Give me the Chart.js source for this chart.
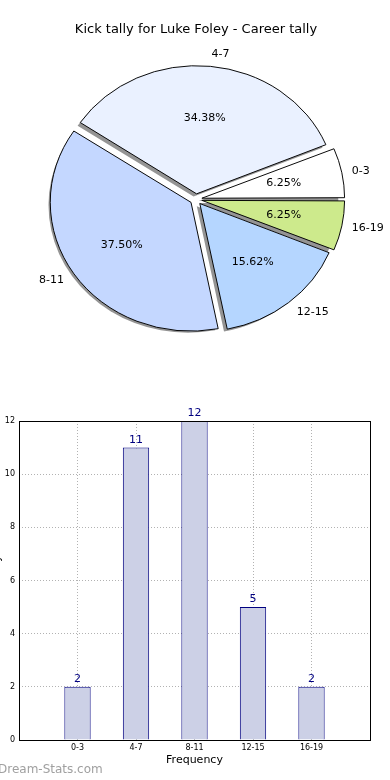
<!DOCTYPE html>
<html>
<head>
<meta charset="utf-8">
<script src="https://cdn.jsdelivr.net/npm/chart.js@4/dist/chart.umd.min.js"></script>
<style>
  html, body { margin: 0; padding: 0; background: #fff; overflow: hidden; }
  body { width: 390px; height: 780px; position: relative; font-family: 'DejaVu Sans', sans-serif; }
  #pie-wrap { position: absolute; left: 0; top: 0; width: 390px; height: 380px; }
  #bar-wrap { position: absolute; left: -14px; top: 400px; width: 404px; height: 380px; }
  #credit { position: absolute; left: -2px; top: 762px; font-size: 12px; color: #a0a0a0; white-space: nowrap; }
</style>
</head>
<body>
<div id="pie-wrap"><canvas id="pie-chart"></canvas></div>
<div id="bar-wrap"><canvas id="bar-chart"></canvas></div>
<div id="credit">Dream-Stats.com</div>
<script>
// Kick tally - Luke Foley, career

const titleText = 'Kick tally for Luke Foley - Career tally';
const categories = ['0-3', '4-7', '8-11', '12-15', '16-19'];
const kickCounts = [2, 11, 12, 5, 2];
const sliceColors = ['#ffffff', '#eaf1ff', '#c4d7ff', '#b5d6ff', '#cdea8c'];
const yTicks = [0, 2, 4, 6, 8, 10, 12];

const FONT = "'DejaVu Sans', sans-serif";
const PIE_RADIUS = 139;
const SQUASH = 0.915;  // matplotlib pie without equal aspect -> ellipse
const EXPLODE = 24;    // chart.js divides arc offset by 4

// matplotlib style %1.2f (round half to even)
function pctText(v) {
  const scaled = v * 100;
  let r = Math.round(scaled);
  if (Math.abs(scaled - Math.trunc(scaled)) === 0.5 && r % 2 !== 0) r -= 1;
  return (r / 100).toFixed(2) + '%';
}

// pie goes counter-clockwise from 3 o'clock in the original, so feed it reversed
const pieLabels = categories.slice().reverse();
const pieValues = kickCounts.slice().reverse();
const pieColors = sliceColors.slice().reverse();
const total = kickCounts.reduce((a, b) => a + b, 0);

const squashPlugin = {
  id: 'squash',
  beforeDatasetsDraw(chart) {
    const ctx = chart.ctx;
    const meta = chart.getDatasetMeta(0);
    const cx = meta.data[0].x, cy = meta.data[0].y;
    ctx.save();
    ctx.translate(cx, cy);
    ctx.scale(1, SQUASH);
    ctx.translate(-cx, -cy);
    // shadows under every wedge
    meta.data.forEach(arc => {
      const mid = (arc.startAngle + arc.endAngle) / 2;
      const d = EXPLODE / 4;
      const sx = arc.x + Math.cos(mid) * d - 3;
      const sy = arc.y + Math.sin(mid) * d + 3;
      ctx.beginPath();
      ctx.moveTo(sx, sy);
      ctx.arc(sx, sy, arc.outerRadius + 0.5, arc.startAngle, arc.endAngle);
      ctx.closePath();
      ctx.fillStyle = 'rgba(60,60,60,0.55)';
      ctx.fill();
    });
  },
  afterDatasetsDraw(chart) {
    const ctx = chart.ctx;
    ctx.restore();
    const meta = chart.getDatasetMeta(0);
    ctx.save();
    ctx.fillStyle = '#000';
    ctx.font = '11px ' + FONT;
    ctx.textBaseline = 'middle';
    meta.data.forEach((arc, i) => {
      const mid = (arc.startAngle + arc.endAngle) / 2;
      const c = Math.cos(mid), s = Math.sin(mid);
      const d = EXPLODE / 4;
      const R = arc.outerRadius;
      // percentage
      ctx.textAlign = 'center';
      ctx.fillText(pctText(pieValues[i] / total * 100),
        arc.x + c * (0.6 * R + d), arc.y + s * (0.6 * R + d) * SQUASH);
      // category
      ctx.textAlign = c >= 0 ? 'left' : 'right';
      ctx.fillText(pieLabels[i],
        arc.x + c * (1.1 * R + d), arc.y + s * (1.1 * R + d) * SQUASH);
    });
    ctx.restore();
  }
};

new Chart(document.getElementById('pie-chart'), {
  type: 'pie',
  plugins: [squashPlugin],
  data: {
    labels: pieLabels,
    datasets: [{
      data: pieValues,
      backgroundColor: pieColors,
      borderColor: '#000',
      borderWidth: 1,
      offset: EXPLODE,
      clip: false
    }]
  },
  options: {
    responsive: true,
    maintainAspectRatio: false,
    animation: false,
    rotation: 90,
    radius: PIE_RADIUS,
    layout: { padding: { left: 2, right: 0, top: 0, bottom: 19 } },
    plugins: {
      legend: { display: false },
      tooltip: { enabled: false },
      title: {
        display: true,
        text: titleText,
        color: '#000',
        font: { family: FONT, size: 13, weight: 'normal' },
        padding: { top: 22, bottom: 0 }
      }
    }
  }
});

// bar chart: padded category axis so bars sit at 1..5 of 0..6
const barLabels = [''].concat(categories, ['']);
const barValues = [null].concat(kickCounts, [null]);

const frameAndValues = {
  id: 'frameAndValues',
  afterDatasetsDraw(chart) {
    const ctx = chart.ctx;
    const a = chart.chartArea;
    ctx.save();
    ctx.strokeStyle = '#000';
    ctx.lineWidth = 1;
    ctx.strokeRect(Math.round(a.left) + 0.5, Math.round(a.top) + 0.5,
      Math.round(a.right - a.left), Math.round(a.bottom - a.top));
    ctx.fillStyle = '#000080';
    ctx.font = '11px ' + FONT;
    ctx.textAlign = 'center';
    ctx.textBaseline = 'bottom';
    chart.getDatasetMeta(0).data.forEach((bar, i) => {
      const v = barValues[i];
      if (v == null) return;
      ctx.fillText(String(v), bar.x, bar.y - 2);
    });
    ctx.restore();
  }
};

new Chart(document.getElementById('bar-chart'), {
  type: 'bar',
  plugins: [frameAndValues],
  data: {
    labels: barLabels,
    datasets: [{
      data: barValues,
      backgroundColor: '#ccd0e6',
      borderColor: '#000080',
      borderWidth: 1,
      categoryPercentage: 1,
      barPercentage: 0.45
    }]
  },
  options: {
    responsive: true,
    maintainAspectRatio: false,
    animation: false,
    layout: { padding: { left: 0, right: 20, top: 21, bottom: 0 } },
    plugins: { legend: { display: false }, tooltip: { enabled: false } },
    scales: {
      x: {
        offset: false,
        grid: { color: 'rgba(0,0,0,0.3)', drawTicks: false, offset: false },
        border: { display: false, dash: [1, 2] },
        ticks: { color: '#000', font: { family: FONT, size: 8 }, padding: 3, maxRotation: 0, autoSkip: false },
        title: { display: true, text: 'Frequency', color: '#000', font: { family: FONT, size: 11 }, padding: { top: 13, bottom: 13 } },
        afterFit: s => { s.height = 40; }
      },
      y: {
        min: 0,
        max: 12,
        afterBuildTicks: s => { s.ticks = yTicks.map(v => ({ value: v })); },
        grid: { color: 'rgba(0,0,0,0.3)', drawTicks: false },
        border: { display: false, dash: [1, 2] },
        ticks: { color: '#000', font: { family: FONT, size: 8 }, padding: 4 },
        title: { display: true, text: 'Kick Tally', color: '#000', font: { family: FONT, size: 11 }, padding: { top: 5, bottom: 0 } },
        afterFit: s => { s.width = 33; }
      }
    }
  }
});
</script>
</body>
</html>
